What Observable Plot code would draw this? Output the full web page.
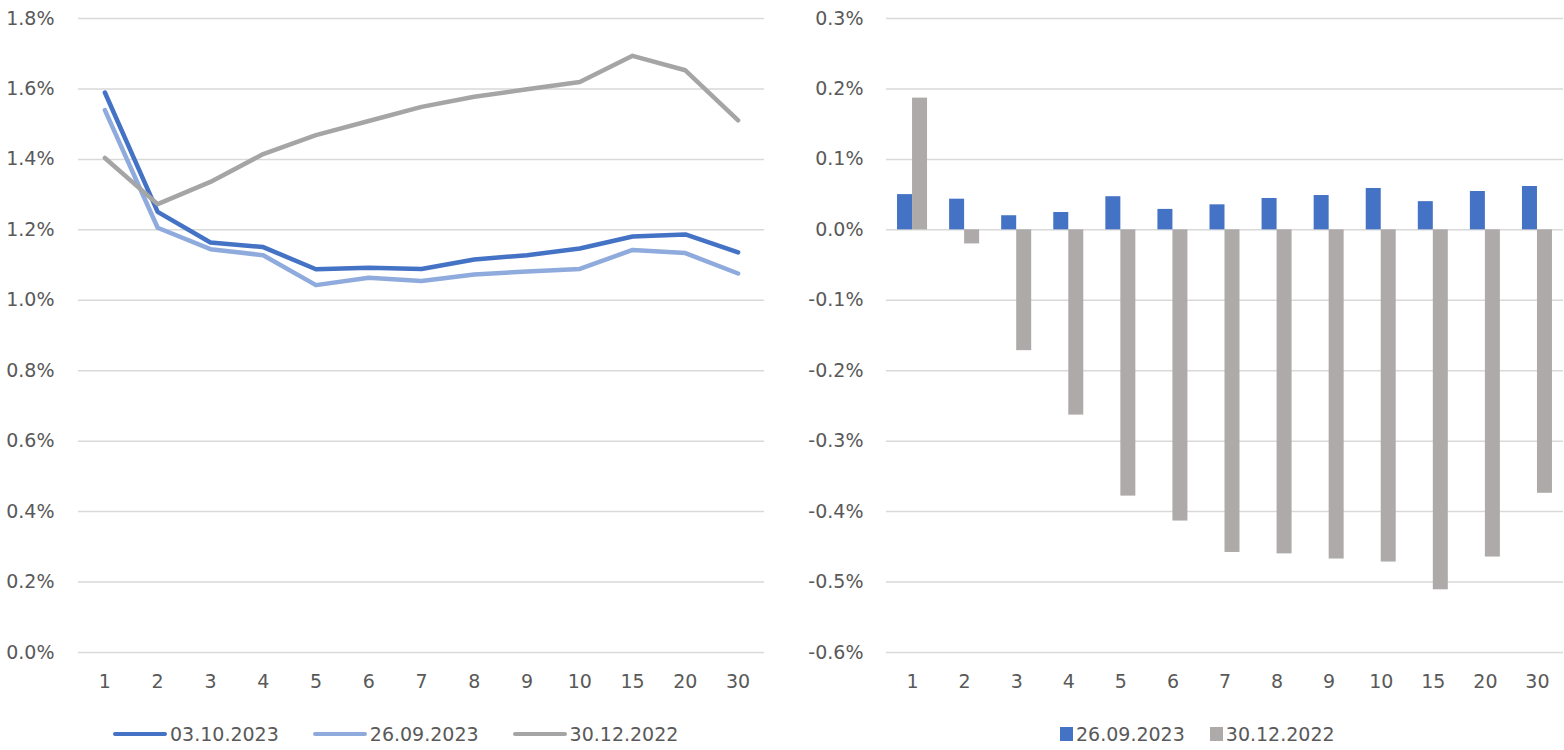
<!DOCTYPE html>
<html>
<head>
<meta charset="utf-8">
<script src="https://cdn.jsdelivr.net/npm/d3@7"></script>
<script src="https://cdn.jsdelivr.net/npm/@observablehq/plot@0.6"></script>
<style>
  html, body { margin: 0; padding: 0; background: #fff; }
  #wrap { position: relative; width: 1564px; height: 750px; font-family: "DejaVu Sans", sans-serif; color: #595959; }
  #left, #right { position: absolute; top: 0; }
  #left { left: 0; }
  #right { left: 782px; }
  .legend { position: absolute; top: 723px; display: flex; align-items: center; font-size: 19px; color: #595959; white-space: nowrap; }
  .legend .item { display: flex; align-items: center; }
  .legend .line { width: 54px; height: 4.5px; border-radius: 2px; margin-right: 3px; }
  .legend .sq { width: 13px; height: 14px; margin-right: 3px; }
</style>
</head>
<body>
<div id="wrap">
  <div id="left"></div>
  <div id="right"></div>
  <div class="legend" id="legL" style="left:113px"></div>
  <div class="legend" id="legR" style="left:1060px"></div>
</div>
<script>
// ---- data ----
const tenors = ["1","2","3","4","5","6","7","8","9","10","15","20","30"];
const series03102023 = [1.590,1.251,1.164,1.151,1.088,1.092,1.089,1.116,1.128,1.147,1.181,1.187,1.136];
const series26092023 = [1.540,1.206,1.145,1.128,1.043,1.064,1.055,1.073,1.082,1.089,1.143,1.134,1.076];
const series30122022 = [1.404,1.273,1.336,1.415,1.469,1.509,1.549,1.578,1.599,1.620,1.694,1.653,1.511];
const diff26092023 = [0.050,0.0435,0.020,0.0246,0.047,0.029,0.0355,0.0445,0.0487,0.0587,0.040,0.0544,0.0615];
const diff30122022 = [0.187,-0.020,-0.1715,-0.263,-0.378,-0.4134,-0.458,-0.460,-0.4673,-0.4716,-0.511,-0.4645,-0.374];
const leftTicks = [0,0.2,0.4,0.6,0.8,1.0,1.2,1.4,1.6,1.8];
const rightTicks = [-0.6,-0.5,-0.4,-0.3,-0.2,-0.1,0,0.1,0.2,0.3];
const lineNames = ["03.10.2023","26.09.2023","30.12.2022"];
const barNames = ["26.09.2023","30.12.2022"];

const lineColors = ["#4472C4","#8FAADC","#A5A5A5"];
const barColors = ["#4472C4","#AEAAAA"];
const gridColor = "#D9D9D9";
const textColor = "#595959";
const fmt = d => d.toFixed(1) + "%";

const lineData = [];
[series03102023, series26092023, series30122022].forEach((arr, si) => {
  arr.forEach((v, i) => lineData.push({tenor: tenors[i], value: v, series: lineNames[si]}));
});

const leftPlot = Plot.plot({
  width: 782, height: 700,
  marginLeft: 78, marginRight: 18, marginTop: 18, marginBottom: 48,
  style: {fontFamily: "DejaVu Sans, sans-serif", fontSize: "19px", color: textColor, background: "transparent"},
  x: {type: "point", domain: tenors, padding: 0.5, round: false, label: null},
  y: {domain: [0, 1.8], label: null},
  color: {domain: lineNames, range: lineColors},
  marks: [
    Plot.ruleY(leftTicks, {stroke: gridColor, strokeWidth: 1.5}),
    Plot.axisY({ticks: leftTicks, tickFormat: fmt, tickSize: 0, tickPadding: 24, label: null, fill: textColor}),
    Plot.axisX({tickSize: 0, tickPadding: 22, label: null, fill: textColor}),
    Plot.line(lineData, {x: "tenor", y: "value", z: "series", stroke: "series", strokeWidth: 4.5, strokeLinejoin: "round", strokeLinecap: "round"})
  ]
});
document.getElementById("left").appendChild(leftPlot);

const barWidthPx = 15;
const rW = 782, rML = 104, rMR = 1;
const bw = (rW - rML - rMR) / tenors.length;
const barData = tenors.map((t, i) => ({tenor: t, a: diff26092023[i], b: diff30122022[i]}));

const rightPlot = Plot.plot({
  width: rW, height: 700,
  marginLeft: rML, marginRight: rMR, marginTop: 18, marginBottom: 48,
  style: {fontFamily: "DejaVu Sans, sans-serif", fontSize: "19px", color: textColor, background: "transparent"},
  x: {type: "band", domain: tenors, padding: 0, round: false, label: null},
  y: {domain: [-0.6, 0.3], label: null},
  marks: [
    Plot.ruleY(rightTicks, {stroke: gridColor, strokeWidth: 1.5}),
    Plot.axisY({ticks: rightTicks, tickFormat: fmt, tickSize: 0, tickPadding: 23, label: null, fill: textColor}),
    Plot.axisX({tickSize: 0, tickPadding: 22, label: null, fill: textColor}),
    Plot.rectY(barData, {x: "tenor", y1: 0, y2: "a", fill: barColors[0], insetLeft: bw/2 - barWidthPx, insetRight: bw/2}),
    Plot.rectY(barData, {x: "tenor", y1: 0, y2: "b", fill: barColors[1], insetLeft: bw/2, insetRight: bw/2 - barWidthPx})
  ]
});
document.getElementById("right").appendChild(rightPlot);

// legends
const legL = document.getElementById("legL");
lineNames.forEach((n, i) => {
  const it = document.createElement("div");
  it.className = "item";
  if (i > 0) it.style.marginLeft = "34px";
  it.innerHTML = `<span class="line" style="background:${lineColors[i]}"></span><span>${n}</span>`;
  legL.appendChild(it);
});
const legR = document.getElementById("legR");
barNames.forEach((n, i) => {
  const it = document.createElement("div");
  it.className = "item";
  if (i > 0) it.style.marginLeft = "25px";
  it.innerHTML = `<span class="sq" style="background:${barColors[i]}"></span><span>${n}</span>`;
  legR.appendChild(it);
});
</script>
</body>
</html>
